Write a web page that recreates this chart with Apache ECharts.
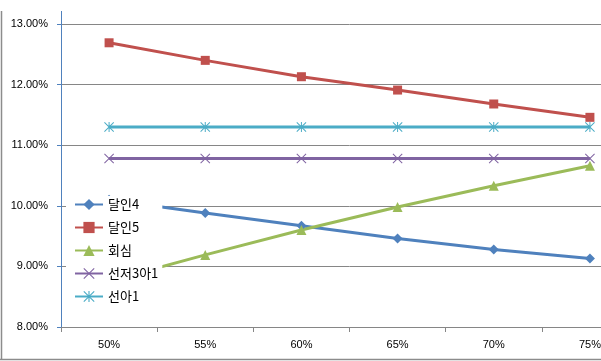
<!DOCTYPE html>
<html>
<head>
<meta charset="utf-8">
<script src="https://cdn.jsdelivr.net/npm/echarts@6/dist/echarts.min.js"></script>
<style>
html,body{margin:0;padding:0;background:#fff;overflow:hidden;width:601px;height:361px;}
#c{width:660px;height:361px;}
</style>
</head>
<body>
<div id="c"></div>
<script>
var categories = ['50%', '55%', '60%', '65%', '70%', '75%'];
var seriesNames = ['달인4', '달인5', '회심', '선저3아1', '선아1'];
var dalin4 = [10.10, 9.88, 9.67, 9.46, 9.28, 9.13];
var dalin5 = [12.69, 12.40, 12.13, 11.91, 11.68, 11.46];
var hoesim = [8.76, 9.19, 9.60, 9.98, 10.33, 10.66];
var seonjeo3a1 = [10.78, 10.78, 10.78, 10.78, 10.78, 10.78];
var seona1 = [11.30, 11.30, 11.30, 11.30, 11.30, 11.30];
var yTicks = [8, 9, 10, 11, 12, 13];

var colors = ['#4F81BD', '#C0504D', '#9BBB59', '#8064A2', '#4BACC6'];
var symX = 'path://M0,0.7L0.7,0L5,4.3L9.3,0L10,0.7L5.7,5L10,9.3L9.3,10L5,5.7L0.7,10L0,9.3L4.3,5Z';
var symStar = 'path://M0,0.7L0.7,0L5,4.3L9.3,0L10,0.7L5.7,5L10,9.3L9.3,10L5,5.7L0.7,10L0,9.3L4.3,5Z M4.5,0L5.5,0L5.5,10L4.5,10Z';
var symbols = ['diamond', 'rect', 'triangle', symX, symStar];
var sizes = [10, 9, 10, 10, 10];
var dataArr = [dalin4, dalin5, hoesim, seonjeo3a1, seona1];

var chart = echarts.init(document.getElementById('c'), null, {renderer: 'canvas'});
var series = seriesNames.map(function (n, i) {
  return {
    name: n,
    type: 'line',
    data: dataArr[i],
    symbol: symbols[i],
    symbolSize: sizes[i],
    showAllSymbol: true,
    lineStyle: {color: colors[i], width: 3},
    itemStyle: {color: colors[i]},
    z: 2 + (i === 1 ? 1 : 0),
    animation: false
  };
});

chart.setOption({
  animation: false,
  color: colors,
  grid: {left: 61, top: 24, bottom: 34, right: 22, containLabel: false},
  legend: {
    orient: 'vertical',
    left: 66,
    top: 196,
    padding: [2, 4, 2, 8],
    itemWidth: 28,
    itemHeight: 14,
    itemGap: 10,
    backgroundColor: '#ffffff',
    data: seriesNames,
    textStyle: {fontFamily: 'Noto Sans CJK KR', fontSize: 13, color: '#000'},
    z: 10
  },
  xAxis: {
    type: 'category',
    data: categories,
    boundaryGap: true,
    axisLine: {lineStyle: {color: '#868686', width: 1}},
    axisTick: {show: true, length: 5, lineStyle: {color: '#868686'}},
    axisLabel: {fontFamily: 'Liberation Sans', fontSize: 11, color: '#000', margin: 12},
    splitLine: {show: false}
  },
  yAxis: {
    type: 'value',
    min: yTicks[0],
    max: yTicks[yTicks.length - 1],
    interval: 1,
    axisLine: {show: true, lineStyle: {color: '#4F81BD', width: 1}},
    axisTick: {show: true, length: 4, inside: false, lineStyle: {color: '#4F81BD'}},
    axisLabel: {
      fontFamily: 'Liberation Sans', fontSize: 11, color: '#000', margin: 13,
      formatter: function (v) { return v.toFixed(2) + '%'; }
    },
    splitLine: {show: true, lineStyle: {color: '#868686', width: 1}}
  },
  graphic: [
    {type: 'line', shape: {x1: 61.5, y1: 11, x2: 61.5, y2: 24}, style: {stroke: '#4F81BD', lineWidth: 1}, silent: true},
    {type: 'line', shape: {x1: 1.5, y1: 11, x2: 1.5, y2: 360}, style: {stroke: '#8c8c8c', lineWidth: 1.5}, silent: true},
    {type: 'line', shape: {x1: 0, y1: 359.5, x2: 660, y2: 359.5}, style: {stroke: '#8c8c8c', lineWidth: 1.5}, silent: true}
  ],
  series: series
});
</script>
</body>
</html>
